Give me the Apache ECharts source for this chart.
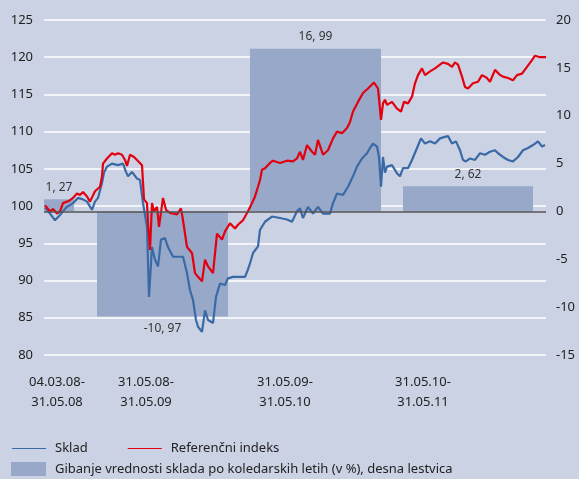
<!DOCTYPE html>
<html>
<head>
<meta charset="utf-8">
<script src="https://cdn.jsdelivr.net/npm/echarts@6/dist/echarts.min.js"></script>
<style>
  html, body { margin: 0; padding: 0; background: #cbd2e3; }
  #chart { width: 579px; height: 479px; }
</style>
</head>
<body>
<div id="chart"></div>
<script>
// x is a day index along the period (0 .. 502)
const sklad = [
  [1, 99.8], [6, 99.0], [11, 98.1], [13, 97.9], [16, 98.8], [19, 99.3], [23, 99.9], [29, 100.4],
  [34, 101.1], [39, 100.9], [43, 100.6], [48, 99.5], [51, 100.6], [54, 101.1], [58, 103.1], [60, 104.5],
  [63, 105.3], [68, 105.7], [74, 105.5], [79, 105.7], [82, 104.6], [84, 104.0], [88, 104.6], [93, 103.7],
  [96, 103.5], [99, 100.4], [103, 97.2], [105, 87.8], [108, 94.5], [111, 92.8], [114, 91.9], [117, 95.5],
  [121, 95.7], [124, 94.5], [129, 93.2], [136, 93.2], [139, 93.2], [143, 91.0], [146, 88.7], [149, 87.4],
  [152, 84.7], [154, 83.8], [158, 83.1], [161, 86.0], [164, 84.7], [169, 84.3], [172, 87.8], [176, 89.6],
  [181, 89.4], [184, 90.3], [189, 90.5], [196, 90.5], [201, 90.5], [204, 91.5], [206, 92.3], [209, 93.7],
  [214, 94.6], [216, 96.8], [221, 97.9], [228, 98.6], [236, 98.4], [243, 98.2], [248, 97.9], [253, 99.3],
  [256, 99.7], [259, 98.4], [264, 99.9], [269, 99.0], [274, 99.9], [279, 99.0], [286, 99.0], [289, 100.4],
  [293, 101.7], [299, 101.5], [304, 102.6], [309, 104.0], [313, 105.3], [318, 106.4], [323, 107.1], [326, 107.8],
  [329, 108.4], [333, 108.0], [335, 106.6], [337, 102.6], [339, 106.6], [341, 104.5], [343, 105.3], [348, 105.5],
  [353, 104.4], [356, 104.0], [359, 105.1], [364, 105.1], [368, 106.2], [373, 107.8], [377, 109.1], [381, 108.4],
  [386, 108.7], [391, 108.4], [396, 109.1], [401, 109.3], [404, 109.4], [408, 108.4], [412, 108.7], [416, 107.5],
  [419, 106.2], [422, 106.0], [426, 106.4], [431, 106.2], [436, 107.1], [441, 106.9], [446, 107.3], [451, 107.5],
  [454, 107.1], [459, 106.6], [464, 106.2], [469, 106.0], [474, 106.6], [479, 107.5], [484, 107.8], [489, 108.2],
  [494, 108.7], [498, 108.0], [501, 108.2]
]
const referenca = [
  [1, 100.1], [6, 99.3], [9, 99.6], [13, 99.0], [16, 99.3], [19, 100.4], [23, 100.6], [26, 100.8],
  [29, 101.1], [33, 101.7], [36, 101.5], [39, 101.9], [43, 101.3], [46, 100.6], [51, 102.0], [53, 102.2],
  [56, 102.6], [58, 104.0], [59, 105.7], [63, 106.4], [68, 107.1], [71, 106.9], [74, 107.1], [78, 106.9],
  [81, 106.2], [83, 105.4], [86, 106.9], [90, 106.6], [93, 106.2], [98, 105.5], [100, 100.9], [103, 100.4],
  [104, 97.7], [106, 94.1], [108, 100.4], [110, 99.3], [113, 99.9], [115, 97.2], [119, 101.1], [122, 99.5],
  [126, 99.1], [133, 98.9], [137, 99.7], [139, 98.1], [143, 94.5], [148, 93.7], [151, 91.0], [154, 90.5],
  [158, 89.9], [161, 92.8], [164, 91.9], [169, 91.0], [173, 96.3], [178, 95.5], [181, 96.6], [186, 97.7],
  [191, 97.0], [194, 97.5], [199, 98.1], [204, 99.3], [208, 100.4], [211, 101.3], [214, 102.6], [216, 103.5],
  [218, 104.9], [221, 105.1], [226, 105.8], [229, 106.1], [236, 105.8], [243, 106.1], [249, 106.0], [253, 106.4],
  [256, 107.3], [259, 106.2], [263, 108.2], [268, 107.3], [271, 106.9], [274, 108.9], [279, 106.9], [284, 107.5],
  [289, 109.1], [293, 110.0], [298, 109.8], [303, 110.5], [306, 111.3], [309, 112.7], [314, 114.0], [319, 115.2],
  [324, 115.8], [330, 116.6], [334, 115.8], [337, 111.6], [339, 113.8], [341, 114.3], [343, 113.6], [348, 114.0],
  [353, 113.1], [357, 112.7], [360, 114.0], [364, 113.8], [368, 114.7], [371, 116.5], [374, 117.6], [378, 118.5],
  [381, 117.6], [386, 118.1], [391, 118.5], [396, 119.0], [399, 119.3], [404, 119.1], [408, 118.7], [411, 119.3],
  [414, 119.0], [418, 117.4], [421, 116.0], [424, 115.8], [429, 116.5], [434, 116.7], [438, 117.6], [443, 117.2],
  [446, 116.7], [451, 118.3], [456, 117.6], [459, 117.4], [464, 117.2], [469, 116.9], [473, 117.6], [478, 117.8],
  [483, 118.7], [488, 119.6], [491, 120.2], [496, 120.0], [502, 120.0]
]

// yearly bars (right axis)
const barStart = [0, 53, 206, 359]
const barEnd = [30, 184, 337, 489]
const barValues = [1.27, -10.97, 16.99, 2.62]

const periodLabels = ['04.03.08-\n31.05.08', '31.05.08-\n31.05.09', '31.05.09-\n31.05.10', '31.05.10-\n31.05.11']
const periodLabelPos = [13, 102, 241, 379]

const FONT = 'Noto Sans'
const barName = 'Gibanje vrednosti sklada po koledarskih letih (v %), desna lestvica'

const chart = echarts.init(document.getElementById('chart'))

const option = {
  backgroundColor: '#cbd2e3',
  animation: false,
  textStyle: { fontFamily: FONT },
  grid: { left: 44, right: 33, top: 20, bottom: 124 },
  legend: [
    {
      data: [
        { name: 'Sklad', icon: 'rect' },
        { name: 'Referenčni indeks', icon: 'rect' }
      ],
      left: 12,
      top: 442,
      padding: 0,
      itemWidth: 34,
      itemHeight: 1,
      itemGap: 40,
      textStyle: { fontSize: 13, color: '#222', fontFamily: FONT, padding: [0, 0, 0, 4] }
    },
    {
      data: [barName],
      left: 11,
      top: 462,
      padding: 0,
      icon: 'rect',
      itemWidth: 35,
      itemHeight: 14,
      textStyle: { fontSize: 13, color: '#222', fontFamily: FONT, padding: [0, 0, 0, 4] }
    }
  ],
  xAxis: {
    type: 'value',
    min: 0,
    max: 502,
    axisLine: { show: false },
    axisTick: { show: false },
    splitLine: { show: false },
    axisLabel: {
      customValues: periodLabelPos,
      formatter: (v) => periodLabels[periodLabelPos.indexOf(v)],
      margin: 17,
      lineHeight: 20,
      fontSize: 13,
      color: '#222'
    }
  },
  yAxis: [
    {
      type: 'value',
      position: 'left',
      min: 80,
      max: 125,
      interval: 5,
      axisLine: { show: false },
      axisTick: { show: false },
      splitLine: { show: true, lineStyle: { color: '#ffffff', width: 1.5 } },
      axisLabel: { margin: 11, fontSize: 13, color: '#222' }
    },
    {
      type: 'value',
      position: 'right',
      min: -15,
      max: 20,
      interval: 5,
      axisLine: { show: false },
      axisTick: { show: false },
      splitLine: { show: false },
      axisLabel: { margin: 10, fontSize: 13, color: '#222' }
    }
  ],
  series: [
    {
      name: barName,
      type: 'custom',
      xAxisIndex: 0,
      yAxisIndex: 1,
      z: 1,
      itemStyle: { color: '#98a8c9' },
      encode: { x: [0, 1], y: 2 },
      data: barValues.map((v, i) => [barStart[i], barEnd[i], v]),
      renderItem: (params, api) => {
        const v = api.value(2)
        const p0 = api.coord([api.value(0), 0])
        const p1 = api.coord([api.value(1), v])
        return {
          type: 'rect',
          shape: {
            x: p0[0],
            y: Math.min(p0[1], p1[1]),
            width: p1[0] - p0[0],
            height: Math.abs(p1[1] - p0[1])
          },
          style: { fill: '#98a8c9' },
          textContent: {
            style: {
              text: v.toFixed(2).replace('.', ', '),
              fill: '#333',
              font: '12px ' + FONT
            }
          },
          textConfig: { position: v >= 0 ? 'top' : 'bottom', distance: 6 }
        }
      },
      markLine: {
        silent: true,
        symbol: 'none',
        label: { show: false },
        lineStyle: { color: '#555', width: 1.5, type: 'solid' },
        data: [{ yAxis: 0 }]
      }
    },
    {
      name: 'Sklad',
      type: 'line',
      z: 3,
      symbol: 'none',
      color: '#3a6aa6',
      lineStyle: { width: 2.2, color: '#3a6aa6' },
      data: sklad
    },
    {
      name: 'Referenčni indeks',
      type: 'line',
      z: 4,
      symbol: 'none',
      color: '#e3000f',
      lineStyle: { width: 2.2, color: '#e3000f' },
      data: referenca
    }
  ]
}

chart.setOption(option)
</script>
</body>
</html>
